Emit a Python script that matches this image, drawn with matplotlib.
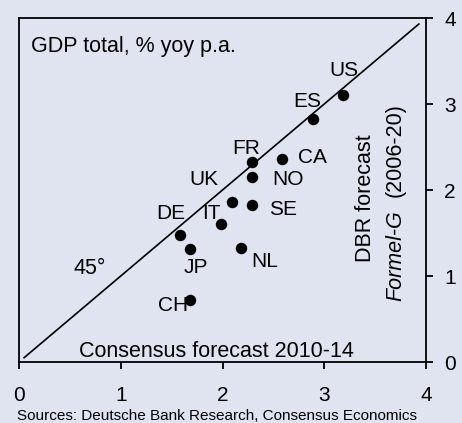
import matplotlib
matplotlib.use("Agg")
import matplotlib.pyplot as plt

countries = ["US", "ES", "FR", "CA", "NO", "UK", "SE", "IT", "DE", "JP", "NL", "CH"]
consensus = [3.18, 2.89, 2.29, 2.58, 2.29, 2.09, 2.29, 1.985, 1.585, 1.68, 2.18, 1.68]
dbr = [3.11, 2.82, 2.32, 2.36, 2.15, 1.86, 1.82, 1.61, 1.48, 1.31, 1.33, 0.72]
# label offsets (points) relative to each dot
offsets = {"US": (1, 17), "ES": (-4, 13), "FR": (-4, 10), "CA": (22, 1), "NO": (26, -2),
           "UK": (-20, 16), "SE": (22, -3), "IT": (-7, 7), "DE": (-7, 15), "JP": (4, -13),
           "NL": (17, -10), "CH": (-12, -4)}
ticks = [0, 1, 2, 3, 4]

bg = "#E0E4F0"
plt.rcParams["font.family"] = ["Liberation Sans", "DejaVu Sans"]

fig = plt.figure(figsize=(4.62, 4.23), dpi=100, facecolor=bg)
ax = fig.add_axes([19/462, 61/423, 407/462, 344/423], facecolor=bg)

ax.plot([0.05, 3.93], [0.05, 3.93], color="black", lw=1.2, zorder=2)
ax.scatter(consensus, dbr, s=68, color="black", zorder=3, linewidths=0)
for c, x, y in zip(countries, consensus, dbr):
    dx, dy = offsets[c]
    ax.annotate(c, (x, y), xytext=(dx, dy), textcoords="offset points",
                ha="center", va="center", fontsize=15)

ax.set_xlim(0, 4)
ax.set_ylim(0, 4)
ax.set_xticks(ticks)
ax.set_yticks(ticks)
ax.set_xticklabels([str(t) for t in ticks])
ax.set_yticklabels([str(t) for t in ticks])
ax.yaxis.tick_right()
ax.tick_params(axis="both", length=5, width=1.3, labelsize=15, color="black")
ax.tick_params(axis="x", pad=12)
ax.tick_params(axis="y", pad=8)
for s in ax.spines.values():
    s.set_linewidth(1.3)

ax.text(0.03, 0.947, "GDP total, % yoy p.a.", transform=ax.transAxes, fontsize=15.5,
        ha="left", va="top")
ax.text(0.485, 0.015, "Consensus forecast 2010-14", transform=ax.transAxes, fontsize=15.5,
        ha="center", va="baseline")
ax.text(0.69, 1.09, "45°", fontsize=15.5, ha="center", va="center")
ax.text(3.41, 1.91, "DBR forecast", rotation=90, fontsize=15.5, ha="center", va="center")
ax.text(3.70, 1.24, "Formel-G", rotation=90, fontsize=15.5, ha="center", va="center", style="italic")
ax.text(3.70, 2.47, "(2006-20)", rotation=90, fontsize=15.5, ha="center", va="center")

fig.text(17/462, 1 - 416/423, "Sources: Deutsche Bank Research, Consensus Economics",
         fontsize=11, ha="left", va="center")

fig.savefig("out.png", dpi=100, facecolor=bg)
